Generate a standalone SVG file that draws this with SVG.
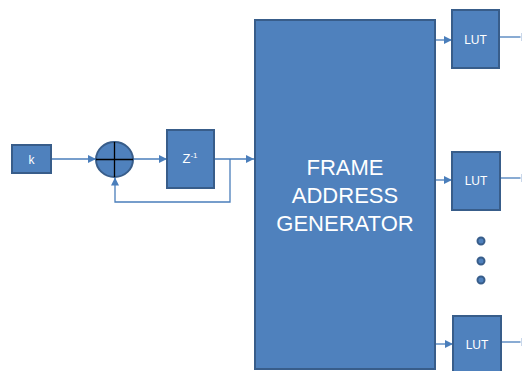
<svg xmlns="http://www.w3.org/2000/svg" width="522" height="371" viewBox="0 0 522 371">
<defs>
<marker id="ah" markerWidth="8" markerHeight="8" viewBox="0 0 8 8" refX="8" refY="4" orient="auto" markerUnits="userSpaceOnUse">
<path d="M0,0 L8,4 L0,8 z" fill="#4A7EBB"/>
</marker>
</defs>
<style>
.box{fill:#4F81BD;stroke:#385D8A;stroke-width:2}
.con{fill:none;stroke:#4A7EBB;stroke-width:1.3}
.tick{stroke:#C9D7EA;stroke-width:1}
.t{fill:#FFFFFF;font-family:"Liberation Sans",Arial,sans-serif;text-anchor:middle}
.dot{fill:#4F81BD;stroke:#385D8A;stroke-width:2}
</style>
<rect width="522" height="371" fill="#FFFFFF"/>
<g id="connectors">
<line class="con" x1="51" y1="159" x2="96" y2="159" marker-end="url(#ah)"/>
<line class="con" x1="133" y1="159" x2="167" y2="159" marker-end="url(#ah)"/>
<line class="con" x1="214" y1="159" x2="254" y2="159" marker-end="url(#ah)"/>
<polyline class="con" points="230,159 230,202 115,202 115,177.5" marker-end="url(#ah)"/>
<line class="con" x1="435" y1="40" x2="452" y2="40" marker-end="url(#ah)"/>
<line class="con" x1="435" y1="180" x2="452" y2="180" marker-end="url(#ah)"/>
<line class="con" x1="435" y1="344" x2="453" y2="344" marker-end="url(#ah)"/>
<line class="con" x1="499" y1="37" x2="520.5" y2="37"/>
<line class="con" x1="500" y1="178" x2="520.5" y2="178"/>
<line class="con" x1="501" y1="342" x2="520.5" y2="342"/>
<line class="tick" x1="521.5" y1="33" x2="521.5" y2="41"/>
<line class="tick" x1="521.5" y1="174" x2="521.5" y2="182"/>
<line class="tick" x1="521.5" y1="338" x2="521.5" y2="346"/>
</g>
<g id="k">
<rect class="box" x="12" y="145" width="39" height="28"/>
<text class="t" x="31.5" y="163.5" font-size="12">k</text>
</g>
<g id="adder">
<ellipse class="box" cx="114.5" cy="159.5" rx="18.5" ry="17.5"/>
<line x1="96" y1="159.5" x2="133" y2="159.5" stroke="#000" stroke-width="1.3"/>
<line x1="114.5" y1="142" x2="114.5" y2="177" stroke="#000" stroke-width="1.3"/>
</g>
<g id="delay">
<rect class="box" x="167" y="130" width="47" height="58"/>
<text class="t" x="190" y="163" font-size="13">Z<tspan font-size="8" dy="-5">-1</tspan></text>
</g>
<g id="fag">
<rect class="box" x="255" y="20" width="180" height="349"/>
<text class="t" x="345" y="175" font-size="22">FRAME</text>
<text class="t" x="345" y="203" font-size="22">ADDRESS</text>
<text class="t" x="345" y="231" font-size="22">GENERATOR</text>
</g>
<g id="lut1">
<rect class="box" x="452" y="10" width="47" height="58"/>
<text class="t" x="475.5" y="44" font-size="12">LUT</text>
</g>
<g id="lut2">
<rect class="box" x="452" y="152" width="48" height="58"/>
<text class="t" x="476" y="185" font-size="12">LUT</text>
</g>
<g id="lut3">
<rect class="box" x="453" y="316" width="48" height="58"/>
<text class="t" x="477" y="349" font-size="12">LUT</text>
</g>
<g id="dots">
<circle class="dot" cx="481" cy="241" r="3.5"/>
<circle class="dot" cx="481" cy="261" r="3.5"/>
<circle class="dot" cx="481" cy="280" r="3.5"/>
</g>
</svg>
